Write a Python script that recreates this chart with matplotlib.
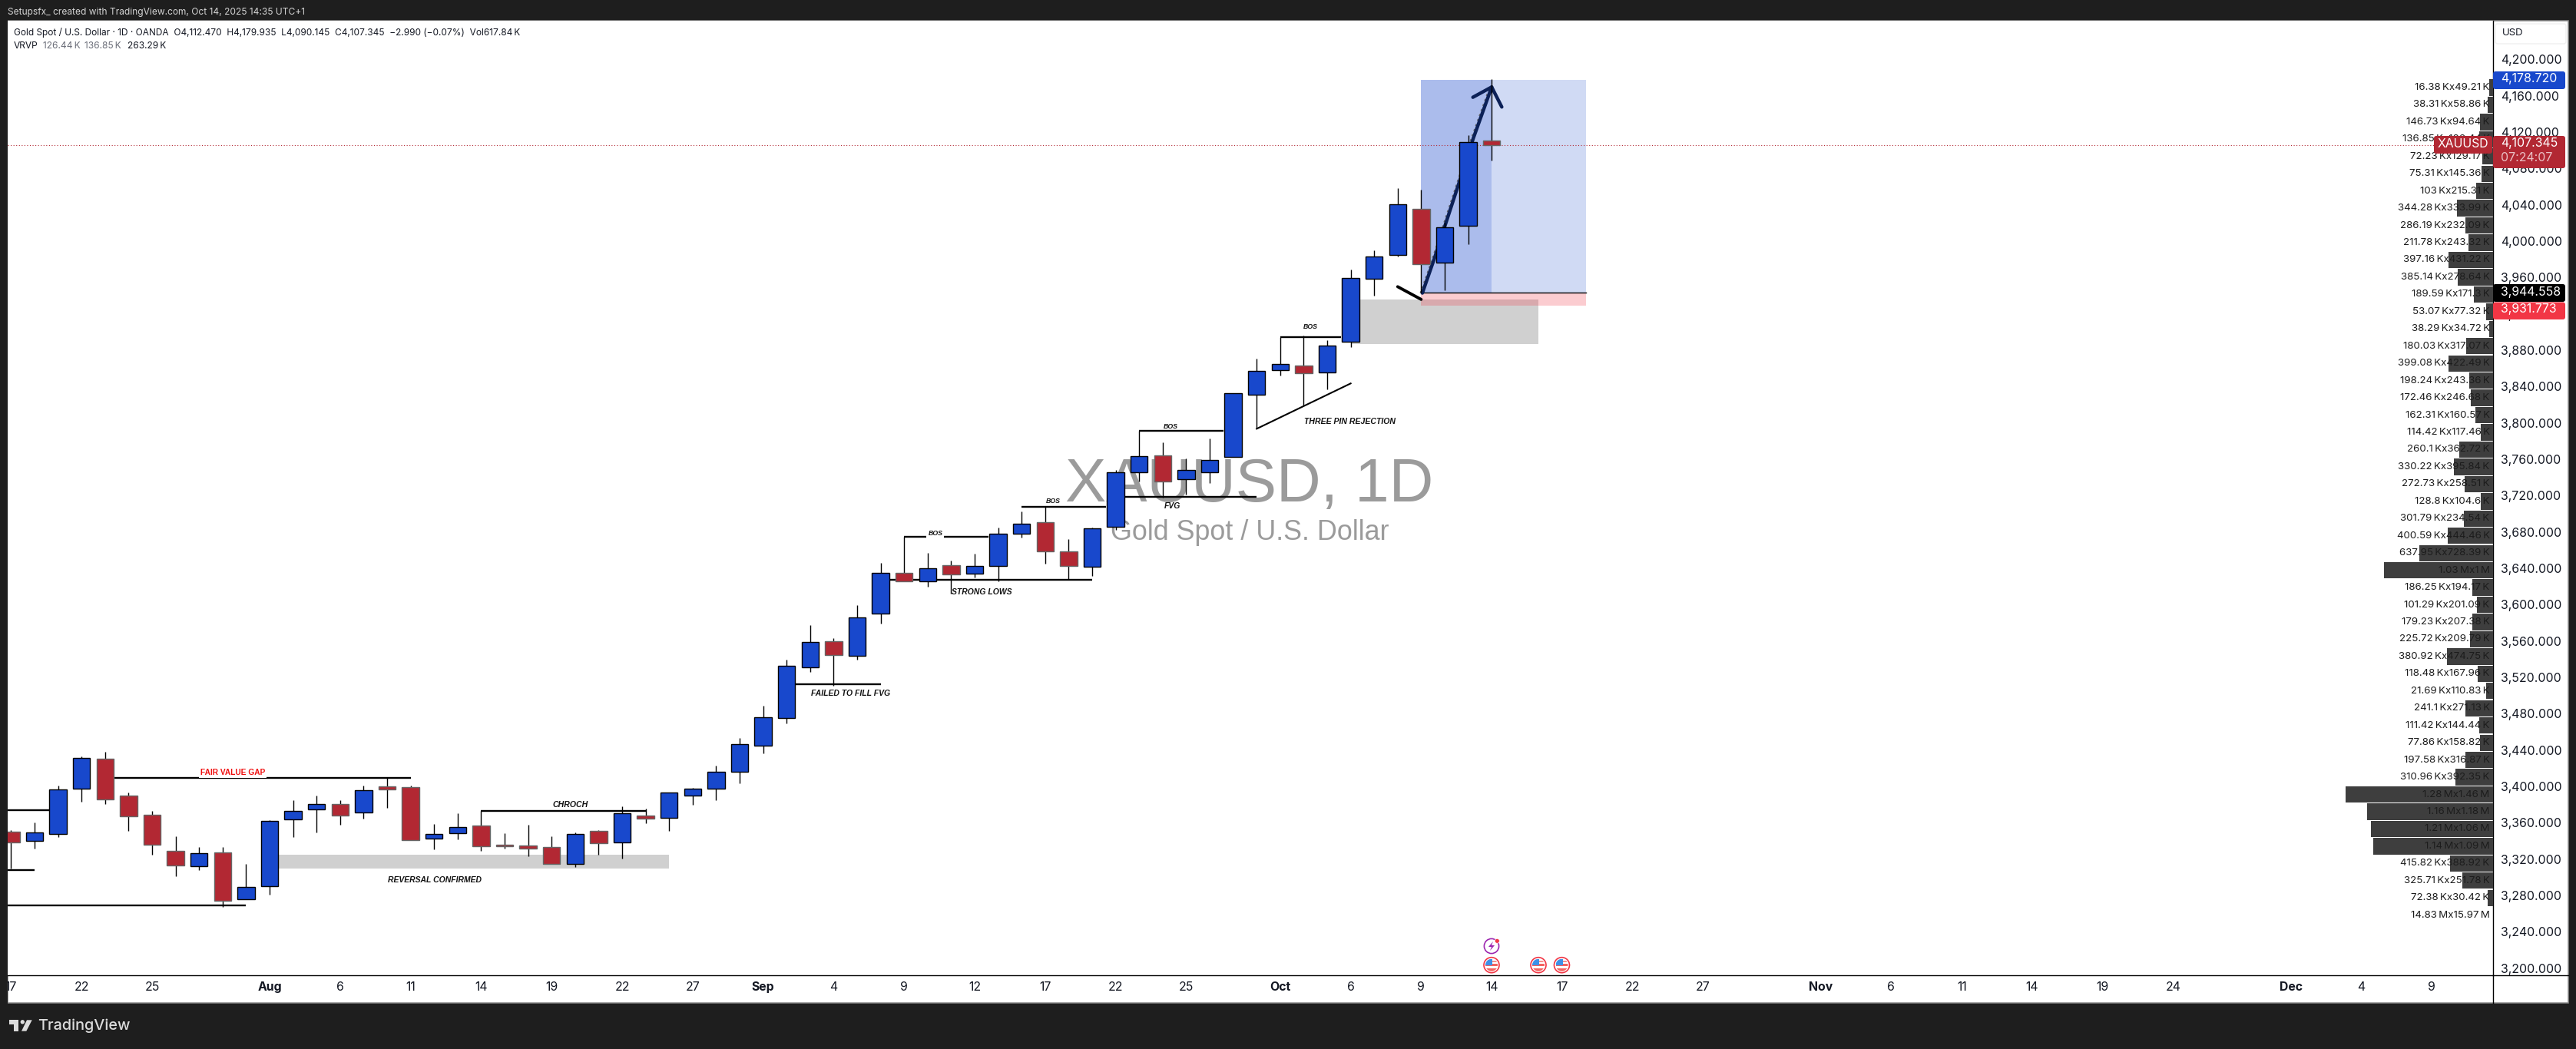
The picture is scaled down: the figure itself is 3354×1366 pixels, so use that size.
"""Recreate the XAUUSD daily TradingView screenshot."""
import matplotlib
matplotlib.use("Agg")
import matplotlib.pyplot as plt
import numpy as np
import pandas as pd
from matplotlib.lines import Line2D
from matplotlib.patches import Circle, FancyBboxPatch, Polygon, Rectangle
from matplotlib.transforms import Affine2D, IdentityTransform

plt.rcParams["font.family"] = ["Inter", "DejaVu Sans"]

W, H = 3355, 1366
DARK = "#1e1e1e"
BLUE = "#1848cc"
RED = "#b22833"
ALERT = "#f23645"

# ---- candles, Jul 17 to Oct 14 (one entry per trading day) ----
opens = [3351.1, 3341.5, 3349.1, 3399.0, 3431.4, 3390.8, 3369.7, 3329.9, 3313.6, 3328.2,
         3277.2, 3291.6, 3365.1, 3376.1, 3381.5, 3372.8, 3400.9, 3400.1, 3344.0, 3349.9,
         3357.8, 3336.7, 3335.8, 3334.1, 3316.1, 3351.9, 3339.8, 3368.8, 3366.8, 3390.7,
         3398.3, 3417.0, 3445.7, 3476.1, 3532.5, 3561.0, 3545.2, 3591.7, 3635.9, 3627.2,
         3644.4, 3635.7, 3644.1, 3679.6, 3691.7, 3659.6, 3642.7, 3687.2, 3747.2, 3765.2,
         3739.6, 3747.2, 3764.1, 3832.6, 3859.7, 3864.4, 3857.1, 3890.9, 3960.2, 3985.9,
         4036.6, 3977.4, 4018.0, 4112.47]
highs = [3353.0, 3361.5, 3401.8, 3434.2, 3439.2, 3394.5, 3374.2, 3346.3, 3334.4, 3334.4,
         3315.8, 3363.7, 3386.0, 3391.1, 3386.0, 3402.1, 3410.2, 3401.8, 3359.8, 3371.6,
         3374.5, 3349.6, 3358.9, 3346.3, 3350.2, 3353.0, 3379.2, 3376.4, 3394.2, 3399.5,
         3424.3, 3454.4, 3489.9, 3540.3, 3578.7, 3564.3, 3600.7, 3647.2, 3676.2, 3658.2,
         3649.7, 3657.3, 3686.1, 3703.8, 3708.9, 3673.4, 3685.8, 3749.2, 3792.9, 3779.9,
         3762.2, 3784.1, 3834.3, 3872.1, 3896.0, 3897.1, 3892.3, 3970.1, 3991.2, 4059.7,
         4058.0, 4021.7, 4118.0, 4179.935]
lows = [3311.0, 3332.7, 3345.4, 3384.3, 3381.8, 3352.2, 3326.0, 3302.3, 3309.1, 3268.8,
        3277.2, 3282.0, 3345.4, 3350.5, 3358.9, 3365.7, 3377.5, 3342.3, 3331.9, 3342.9,
        3330.2, 3332.7, 3324.3, 3316.1, 3312.5, 3326.0, 3321.8, 3360.6, 3352.2, 3381.0,
        3386.0, 3404.8, 3437.8, 3470.8, 3527.2, 3512.2, 3540.7, 3580.4, 3626.6, 3621.3,
        3613.1, 3631.1, 3627.2, 3675.1, 3646.4, 3628.6, 3632.8, 3683.8, 3737.1, 3718.8,
        3722.4, 3735.4, 3764.1, 3794.8, 3853.5, 3820.2, 3838.2, 3884.7, 3941.4, 3984.5,
        3944.558, 3947.6, 3998.3, 4090.145]
closes = [3339.2, 3350.2, 3397.6, 3432.2, 3387.1, 3368.5, 3337.3, 3314.4, 3327.4, 3275.5,
          3290.2, 3362.9, 3373.9, 3381.5, 3369.4, 3396.7, 3398.1, 3342.3, 3348.5, 3356.1,
          3335.6, 3335.6, 3333.0, 3316.1, 3348.5, 3338.9, 3371.3, 3366.0, 3394.2, 3398.3,
          3417.0, 3447.4, 3477.0, 3533.6, 3559.9, 3546.0, 3586.9, 3635.9, 3626.6, 3641.0,
          3634.2, 3643.5, 3679.0, 3690.0, 3660.2, 3644.1, 3685.0, 3746.7, 3764.4, 3736.5,
          3749.2, 3760.2, 3833.7, 3858.2, 3865.9, 3856.3, 3886.1, 3960.5, 3984.2, 4041.7,
          3976.3, 4016.3, 4110.2, 4107.345]

# ---- time axis ----
tick_dates = ["2025-07-17", "2025-07-22", "2025-07-25", "2025-08-01", "2025-08-06", "2025-08-11",
              "2025-08-14", "2025-08-19", "2025-08-22", "2025-08-27", "2025-09-01", "2025-09-04",
              "2025-09-09", "2025-09-12", "2025-09-17", "2025-09-22", "2025-09-25", "2025-10-01",
              "2025-10-06", "2025-10-09", "2025-10-14", "2025-10-17", "2025-10-22", "2025-10-27",
              "2025-11-03", "2025-11-06", "2025-11-11", "2025-11-14", "2025-11-19", "2025-11-24",
              "2025-12-01", "2025-12-04", "2025-12-09"]
tick_names = ["17", "22", "25", "Aug", "6", "11", "14", "19", "22", "27", "Sep", "4", "9", "12",
              "17", "22", "25", "Oct", "6", "9", "14", "17", "22", "27", "Nov", "6", "11", "14",
              "19", "24", "Dec", "4", "9"]
months = {"Aug", "Sep", "Oct", "Nov", "Dec"}
price_ticks = list(range(3200, 4201, 40))

# ---- volume profile, top row first ----
vp_buy = ["16.38K", "38.31K", "146.73K", "136.85K", "72.23K", "75.31K", "103K", "344.28K",
          "286.19K", "211.78K", "397.16K", "385.14K", "189.59K", "53.07K", "38.29K", "180.03K",
          "399.08K", "198.24K", "172.46K", "162.31K", "114.42K", "260.1K", "330.22K", "272.73K",
          "128.8K", "301.79K", "400.59K", "637.95K", "1.03M", "186.25K", "101.29K", "179.23K",
          "225.72K", "380.92K", "118.48K", "21.69K", "241.1K", "111.42K", "77.86K", "197.58K",
          "310.96K", "1.28M", "1.16M", "1.21M", "1.14M", "415.82K", "325.71K", "72.38K"]
vp_sell = ["49.21K", "58.86K", "94.64K", "126.44K", "129.17K", "145.36K", "215.31K", "333.99K",
           "232.09K", "243.32K", "431.22K", "278.64K", "171.3K", "77.32K", "34.72K", "317.07K",
           "422.49K", "243.36K", "246.68K", "160.57K", "117.46K", "362.72K", "395.84K", "258.51K",
           "104.6K", "234.54K", "444.46K", "728.39K", "1M", "194.17K", "201.09K", "207.38K",
           "209.79K", "474.75K", "167.96K", "110.83K", "271.13K", "144.44K", "158.82K", "316.87K",
           "392.35K", "1.46M", "1.18M", "1.06M", "1.09M", "388.92K", "251.78K", "30.42K"]
vp_total_buy, vp_total_sell = "14.83M", "15.97M"
vp_high = 4179.935
vp_step = 18.98

# ---- drawing tools on the chart: (bar from, bar to, price) ----
level_x0 = [-0.14, -0.14, -0.14, 4.4, 20.0, 33.4, 37.35, 38.0, 43.0, 47.4, 48.0, 54.0]
level_x1 = [1.65, 1.0, 10.0, 17.0, 27.0, 37.0, 46.0, 41.6, 46.6, 53.0, 51.6, 56.6]
level_price = [3375.0, 3309.3, 3270.2, 3410.8, 3374.4, 3513.9, 3628.9, 3676.2, 3709.2, 3719.9,
               3792.9, 3896.0]

note_text = ["CHROCH", "REVERSAL CONFIRMED", "FAILED TO FILL FVG", "STRONG LOWS", "BOS", "BOS",
             "FVG", "BOS", "BOS", "THREE PIN REJECTION"]
note_x = [23.8, 18.03, 35.74, 41.29, 39.33, 44.33, 49.41, 49.33, 55.3, 56.97]
note_price = [3380.9, 3298.3, 3503.5, 3614.8, 3679.3, 3715.6, 3710.0, 3797.6, 3906.7, 3803.0]
note_size = [7.6, 7.5, 7.5, 7.5, 6.3, 6.3, 7.5, 6.3, 6.3, 7.6]

trend_x = [53.0, 57.0]
trend_price = [3794.8, 3844.7]
check_x = [59.0, 60.0]
check_price = [3951.2, 3937.2]
arrow_x = [60.05, 60.56, 61.02, 61.59, 62.22, 63.0]
arrow_price = [3944.2, 3982.2, 4018.9, 4063.9, 4114.7, 4171.0]
arrow_head_x = [62.2, 63.0, 63.43]
arrow_head_price = [4159.7, 4171.0, 4149.0]

entry_price, target_price, stop_price = 3944.558, 4178.72, 3931.773
last_price = 4107.345


def py(y):
    return H - y


PX = IdentityTransform()
fig = plt.figure(figsize=(W / 100, H / 100), dpi=100, facecolor=DARK)
fig.add_artist(Rectangle((10, py(1306)), 3334, 1279, transform=PX, facecolor="white",
                         edgecolor="#8a8a8a", lw=1.1, zorder=-1))

pos = [10 / W, (H - 1270) / H, 3236 / W, 1243 / H]
ax = fig.add_axes(pos)
ax.set_facecolor("white")
ax.set_axisbelow(True)
ax.set_xlim((10 - 14.4) / 30.6, (3246 - 14.4) / 30.6)
ax.set_ylim(4200 - (1270 - 79) / 1.183, 4200 - (27 - 79) / 1.183)

# watermark sits under everything else
ax.text(52.7, 3714.8, "XAUUSD, 1D", family="Liberation Sans", fontsize=57.5, color="#9b9b9b",
        ha="center", va="baseline", zorder=0.6)
ax.text(52.7, 3672.5, "Gold Spot / U.S. Dollar", family="Liberation Sans", fontsize=25.8,
        color="#9b9b9b", ha="center", va="baseline", zorder=0.6)

# grey zones and the long position box
ax.fill_between([11, 28], 3310.8, 3326.0, color="#d0d0d0", lw=0, zorder=1)
ax.fill_between([57, 65], 3888.4, 3937.1, color="#d0d0d0", lw=0, zorder=1)
ax.fill_between([60, 67], entry_price, target_price, color=BLUE, alpha=0.2, lw=0, zorder=1.2)
ax.fill_between([60, 63], entry_price, target_price, color=BLUE, alpha=0.2, lw=0, zorder=1.3)
ax.fill_between([60, 67], stop_price - 1.4, entry_price, color=ALERT, alpha=0.25, lw=0, zorder=1.4)
ax.plot([60, 67], [entry_price, entry_price], color="black", lw=1.0, zorder=1.5)

ax.plot(np.array(arrow_x) - 0.09, arrow_price, color="#666666", lw=1.0, ls=(0, (2, 3)), zorder=2)
ax.plot(arrow_x, arrow_price, color="#0c2157", lw=3.2, zorder=2.2, solid_capstyle="round")
ax.plot(arrow_head_x, arrow_head_price, color="#0c2157", lw=3.2, zorder=2.2, solid_capstyle="round")
ax.plot(check_x, check_price, color="black", lw=2.8, zorder=2.2, solid_capstyle="round")
ax.plot(trend_x, trend_price, color="black", lw=1.5, zorder=3.5)
ax.hlines(level_price, level_x0, level_x1, color="black", lw=1.7, zorder=3.5)
ax.axhline(last_price, color=RED, lw=0.8, ls=(0, (1, 2.2)), zorder=3.6)

# candles
x = np.arange(len(opens))
o, h, l, c = map(np.array, (opens, highs, lows, closes))
up = c >= o
ax.vlines(x, l, h, color="black", lw=1.0, zorder=3.9)
ax.bar(x[up], (c - o)[up], bottom=o[up], width=0.73, color=BLUE, edgecolor="black", lw=1.0, zorder=4)
ax.bar(x[~up], (o - c)[~up], bottom=c[~up], width=0.73, color=RED, edgecolor="#666666", lw=1.0, zorder=4)

# labels on the chart
note_font = dict(family="Liberation Sans", fontweight="bold", ha="center", va="center", zorder=5)
ax.text(9.43, 3416.4, "FAIR VALUE GAP", color="#f01010", fontsize=7.3,
        bbox=dict(fc="white", ec="none", pad=1.5), **note_font)
for s, nx, np_, ns in zip(note_text, note_x, note_price, note_size):
    box = dict(fc="white", ec="none", pad=1.5) if nx == 39.33 else None
    ax.text(nx, np_, s, color="#111111", fontsize=ns, style="italic", bbox=box, **note_font)

# axes
bdays = pd.bdate_range("2025-07-17", "2025-12-09")
tick_pos = [bdays.get_loc(pd.Timestamp(d)) for d in tick_dates]
ax.set_xticks(tick_pos, tick_names)
ax.set_yticks(price_ticks, [f"{v:,.3f}" for v in price_ticks])
ax.yaxis.tick_right()
ax.tick_params(axis="both", length=0, labelsize=11.4, labelcolor="#131722")
ax.tick_params(axis="x", pad=5.5)
ax.tick_params(axis="y", pad=7.2)
for lbl, name in zip(ax.get_xticklabels(), tick_names):
    if name in months:
        lbl.set_fontweight("bold")
# price labels sit a hair above their level on the real scale
for t in ax.yaxis.get_major_ticks():
    t.label2.set_transform(t.label2.get_transform() + Affine2D().translate(0, 1.5))
for side in ("top", "left"):
    ax.spines[side].set_visible(False)
for side in ("right", "bottom"):
    ax.spines[side].set_linewidth(1.0)
fig.add_artist(Line2D([3246, 3344], [py(1270)] * 2, transform=PX, color="black", lw=1.0))
fig.add_artist(Line2D([3246, 3246], [py(1270), py(1306)], transform=PX, color="black", lw=1.0))


def vol(s):
    return float(s[:-1]) * {"K": 1, "M": 1000}[s[-1]]


# volume profile grows leftwards from the price scale
ax_vp = fig.add_axes(pos, sharey=ax, zorder=1)
ax_vp.patch.set_alpha(0)
ax_vp.set_axis_off()
ax_vp.set_xlim(3236 / 0.07, 0)
rows = vp_high - vp_step / 2 - vp_step * np.arange(len(vp_buy) + 1)
totals = [vol(b) + vol(s) for b, s in zip(vp_buy, vp_sell)]
ax_vp.barh(rows[:-1], totals, height=vp_step * 0.95, color="#3e3e3e", lw=0)
labels = [f"{b[:-1]}\u2009{b[-1]}x{s[:-1]}\u2009{s[-1]}" for b, s in zip(vp_buy + [vp_total_buy], vp_sell + [vp_total_sell])]
for r, s in zip(rows, labels):
    ax_vp.text(61, r, s, ha="right", va="center", fontsize=9.6, color="#1c1c1c")


# ---- screenshot chrome, placed in pixels ----
def tag(x0, y0, x1, y1, color, edge="none"):
    fig.add_artist(FancyBboxPatch((x0, py(y1)), x1 - x0, y1 - y0, boxstyle="round,pad=0,rounding_size=3",
                                  transform=PX, facecolor=color, edgecolor=edge, lw=1, zorder=10))


def label(x0, y0, s, color="white", size=11.4, ha="left", **kw):
    fig.text(x0, py(y0), s, transform=PX, color=color, fontsize=size, ha=ha, va="center", zorder=11, **kw)


fig.add_artist(Rectangle((0, 0), 10, H, transform=PX, facecolor=DARK, lw=0, zorder=5))

tag(3249, 31, 3341, 57, "white", "#f0f0f0")
label(3258, 43.5, "USD", color="#131722", size=9.5)
tag(3246, 93, 3340, 116, BLUE)
label(3256, 102.5, "4,178.720")
tag(3246, 177, 3340, 219, RED)
label(3256, 187, "4,107.345")
label(3256, 206, "07:24:07", color="#eac0c4")
tag(3169, 177, 3245, 200, RED)
label(3207, 188, "XAUUSD", ha="center")
tag(3246, 370, 3340, 393, "black")
label(3256, 380, "3,944.558")
tag(3246, 393.5, 3340, 416, ALERT)
label(3256, 403, "3,931.773")

label(10, 16, "Setupsfx_ created with TradingView.com, Oct 14, 2025 14:35 UTC+1", color="#d4d4d4", size=8.6)
label(18, 42.7, "Gold Spot / U.S. Dollar · 1D · OANDA  O4,112.470  H4,179.935  L4,090.145  C4,107.345  "
      "−2.990 (−0.07%)  Vol617.84\u2009K", color="#131722", size=8.55)
label(18, 60, "VRVP", color="#131722", size=8.6)
label(56, 60, "126.44\u2009K", color="#6a6d78", size=8.6)
label(110, 60, "136.85\u2009K", color="#6a6d78", size=8.6)
label(166.5, 60, "263.29\u2009K", color="#131722", size=8.6)

# TradingView logo
logo = "#dcdcdc"
fig.add_artist(Polygon([(12, py(1328.3)), (24, py(1328.3)), (24, py(1342.7)), (18, py(1342.7)),
                        (18, py(1334.3)), (12, py(1334.3))], transform=PX, facecolor=logo, lw=0))
fig.add_artist(Circle((29.3, py(1330.8)), 2.7, transform=PX, facecolor=logo, lw=0))
fig.add_artist(Polygon([(35, py(1328.3)), (41.7, py(1328.3)), (34.3, py(1342.7)), (28, py(1342.7))],
                       transform=PX, facecolor=logo, lw=0))
label(49, 1336, "TradingView", color=logo, size=14.3, fontweight="medium")

# event markers above the time axis
fig.add_artist(Circle((1942, py(1232)), 9.6, transform=PX, facecolor="white", edgecolor="#9c27b0", lw=1.2, zorder=6))
fig.add_artist(Polygon([(1944, py(1226)), (1938, py(1233)), (1942, py(1233)), (1940, py(1238)),
                        (1946, py(1231)), (1942, py(1231))], transform=PX, facecolor="#9c27b0", lw=0, zorder=6))
fig.add_artist(Circle((1949.3, py(1225.3)), 3, transform=PX, facecolor=ALERT, edgecolor="white", lw=0.5, zorder=6))
for fx in (1942, 2003, 2033.5):
    cy = py(1256.7)
    ring = Circle((fx, cy), 10, transform=PX, facecolor="white", edgecolor=ALERT, lw=1.2, zorder=6)
    fig.add_artist(ring)
    clip = Circle((fx, cy), 8, transform=PX)
    for x0, y0, w_, h_, col in ((fx - 8, cy - 8, 16, 4, "#f4625f"), (fx - 8, cy - 1, 16, 2.5, "#f4625f"),
                                (fx, cy + 4, 8, 2, "#f7908d"), (fx - 8, cy, 9, 8, "#3d90e8")):
        p = Rectangle((x0, y0), w_, h_, transform=PX, facecolor=col, lw=0, zorder=6.5)
        fig.add_artist(p)
        p.set_clip_path(clip)

fig.savefig("out.png", dpi=100, facecolor=DARK)
